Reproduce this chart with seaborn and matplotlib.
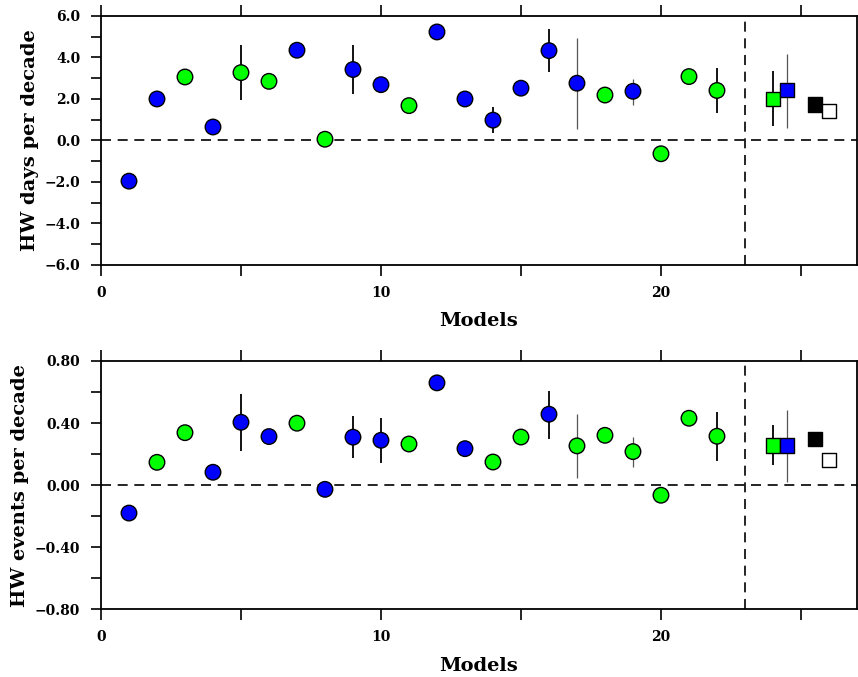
import matplotlib
matplotlib.use("Agg")
import matplotlib.pyplot as plt
from matplotlib.ticker import MultipleLocator, FuncFormatter
import seaborn as sns
import pandas as pd

# ---------------- data ----------------
models = list(range(1, 23))

days_vals = [-1.96, 2.00, 3.06, 0.65, 3.27, 2.85, 4.35, 0.06, 3.42, 2.69, 1.68,
             5.23, 2.00, 0.98, 2.52, 4.33, 2.76, 2.19, 2.37, -0.64, 3.08, 2.41]
days_group = ["b", "b", "g", "b", "g", "g", "b", "g", "b", "b", "g",
              "b", "b", "b", "b", "b", "b", "g", "b", "g", "g", "g"]
days_err_x = [5, 9, 14, 16, 17, 19, 22]
days_err_lo = [1.94, 2.23, 0.34, 3.30, 0.53, 1.73, 1.33]
days_err_hi = [4.59, 4.59, 1.62, 5.36, 4.96, 2.98, 3.51]

events_vals = [-0.18, 0.147, 0.338, 0.083, 0.405, 0.313, 0.399, -0.027, 0.309, 0.289, 0.265,
               0.659, 0.235, 0.149, 0.310, 0.457, 0.253, 0.321, 0.216, -0.065, 0.431, 0.315]
events_group = ["b", "g", "g", "b", "b", "b", "g", "b", "b", "b", "g",
                "b", "b", "g", "g", "b", "g", "g", "g", "g", "g", "g"]
events_err_x = [5, 9, 10, 16, 17, 19, 22]
events_err_lo = [0.222, 0.173, 0.141, 0.300, 0.044, 0.119, 0.158]
events_err_hi = [0.588, 0.444, 0.435, 0.609, 0.459, 0.309, 0.470]

# ensemble summary squares
sq_x = [24.0, 24.5, 25.5, 26.0]
sq_group = ["g", "b", "k", "w"]
days_sq = [1.99, 2.42, 1.73, 1.41]
days_sq_lo = [0.69, 0.61]
days_sq_hi = [3.33, 4.19]
events_sq = [0.255, 0.255, 0.296, 0.160]
events_sq_lo = [0.128, 0.023]
events_sq_hi = [0.386, 0.483]

# ---------------- style ----------------
sns.set_theme(style="white")
plt.rcParams['font.family'] = ['DejaVu Serif']
plt.rcParams['font.weight'] = 'bold'
for k in ("text.color", "axes.labelcolor", "xtick.color", "ytick.color", "axes.edgecolor"):
    plt.rcParams[k] = "black"

palette = {"b": "#0000ff", "g": "#00ff00", "k": "#000000", "w": "#ffffff"}
thin_days = {17, 19}
thin_events = {17, 19}

fig = plt.figure(figsize=(8.58, 6.77), dpi=100)
ax1 = fig.add_axes([0.1177, 0.6086, 0.8811, 0.3678])
ax2 = fig.add_axes([0.1177, 0.1000, 0.8811, 0.3668])


def draw(ax, vals, groups, ex, elo, ehi, sqv, sqlo, sqhi, thin, ylim, ymaj, ymin, fmt, ylabel):
    ax.axhline(0, color="black", lw=1.2, ls=(0, (6, 4)), zorder=1)
    ax.axvline(23, color="black", lw=1.2, ls=(0, (6, 4)), zorder=1)
    for x, lo, hi in zip(ex, elo, ehi):
        if x in thin:
            ax.vlines(x, lo, hi, color="#555555", lw=0.9, zorder=2)
        else:
            ax.vlines(x, lo, hi, color="black", lw=1.3, zorder=2)
    ax.vlines(sq_x[0], sqlo[0], sqhi[0], color="black", lw=1.3, zorder=2)
    ax.vlines(sq_x[1], sqlo[1], sqhi[1], color="#555555", lw=0.9, zorder=2)

    df = pd.DataFrame({"x": models, "y": vals, "g": groups})
    sns.scatterplot(data=df, x="x", y="y", hue="g", palette=palette, s=125,
                    edgecolor="black", linewidth=1.0, legend=False, ax=ax, zorder=3)
    dfs = pd.DataFrame({"x": sq_x, "y": sqv, "g": sq_group})
    sns.scatterplot(data=dfs, x="x", y="y", hue="g", palette=palette, s=105, marker="s",
                    edgecolor="black", linewidth=1.0, legend=False, ax=ax, zorder=3)

    ax.set_xlim(0, 27)
    ax.set_ylim(*ylim)
    ax.xaxis.set_major_locator(MultipleLocator(5))
    ax.xaxis.set_major_formatter(FuncFormatter(lambda v, p: f"{int(round(v))}" if int(round(v)) % 10 == 0 else ""))
    ax.yaxis.set_major_locator(MultipleLocator(ymaj))
    ax.yaxis.set_minor_locator(MultipleLocator(ymin))
    ax.yaxis.set_major_formatter(FuncFormatter(lambda v, p: fmt.format(v).replace("-", "\u2212")))
    ax.tick_params(axis="x", which="major", direction="out", length=8, width=1.2,
                   top=True, bottom=True, labelsize=10, pad=7, color="black", labelcolor="black")
    ax.tick_params(axis="y", which="both", direction="out", length=7, width=1.2,
                   left=True, right=False, labelsize=10, pad=8, color="black", labelcolor="black")
    for lab in ax.get_xticklabels() + ax.get_yticklabels():
        lab.set_fontweight("bold")
    for sp in ax.spines.values():
        sp.set_visible(True)
        sp.set_color("black")
        sp.set_linewidth(1.3)
    ax.set_xlabel("Models", fontsize=14, fontweight="bold", labelpad=9, color="black")
    ax.set_ylabel(ylabel, fontsize=14, fontweight="bold", labelpad=4, color="black")


draw(ax1, days_vals, days_group, days_err_x, days_err_lo, days_err_hi,
     days_sq, days_sq_lo, days_sq_hi, thin_days, (-6, 6), 2, 1, "{:.1f}", "HW days per decade")
draw(ax2, events_vals, events_group, events_err_x, events_err_lo, events_err_hi,
     events_sq, events_sq_lo, events_sq_hi, thin_events, (-0.8, 0.8), 0.4, 0.2, "{:.2f}",
     "HW events per decade")

fig.savefig("out.png", dpi=100)
